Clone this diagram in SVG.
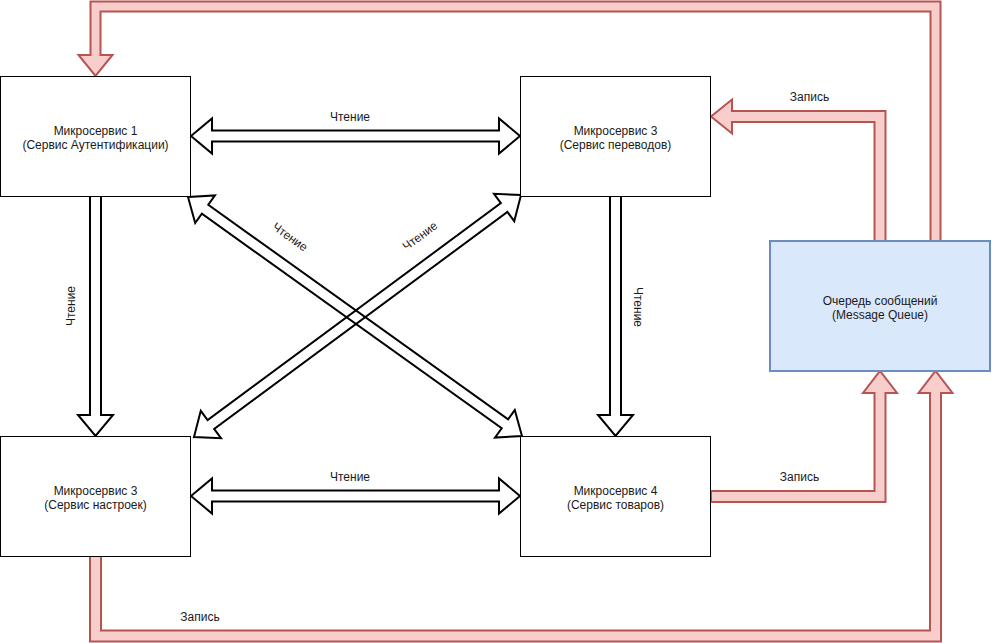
<svg xmlns="http://www.w3.org/2000/svg" width="992" height="643" viewBox="0 0 992 643">
  <style>
    .box{fill:#ffffff;stroke:#000000;stroke-width:1}
    .queue{fill:#dae8fc;stroke:#6c8ebf;stroke-width:2}
    .red{fill:#f8cecc;stroke:#b85450;stroke-width:2;stroke-linejoin:miter}
    .blk{fill:#ffffff;stroke:#000000;stroke-width:2;stroke-linejoin:miter}
    .diag{fill:none}
    text{font-family:"Liberation Sans",Arial,Helvetica,sans-serif;font-size:12px;fill:#1a1a1a;text-anchor:middle}
    .lbl{dominant-baseline:central}
  </style>
  <rect width="992" height="643" fill="#ffffff"/>
  <g id="connectors">
    <polygon class="red" points="930.5,241 930.5,11.5 100.5,11.5 100.5,55 112.5,55 95.5,76 78.5,55 90.5,55 90.5,1.5 940.5,1.5 940.5,241"/>
    <polygon class="red" points="874.5,241 874.5,122 732,122 732,133.5 711,116.5 732,99.5 732,111 885.5,111 885.5,241"/>
    <polygon class="red" points="711,491 874.5,491 874.5,393 863,393 880,371 897,393 885.5,393 885.5,502 711,502"/>
    <polygon class="red" points="90,556 90,641.5 941,641.5 941,393 952.5,393 935.5,371 918.5,393 930,393 930,630.5 101,630.5 101,556"/>
    <polygon class="blk" points="90,196 90,415 78,415 95.5,436 113,415 101,415 101,196"/>
    <polygon class="blk" points="610,196 610,415 598,415 615.5,436 633,415 621,415 621,196"/>
    <polygon class="blk" points="191,136 212,118.5 212,130.5 499,130.5 499,118.5 520,136 499,153.5 499,141.5 212,141.5 212,153.5"/>
    <polygon class="blk" points="191,496 212,478.5 212,490.5 499,490.5 499,478.5 520,496 499,513.5 499,501.5 212,501.5 212,513.5"/>
    <g transform="translate(188,197) rotate(35.59)">
      <polygon class="blk diag" points="0,0 21,-17 21,-5.5 389.7,-5.5 389.7,-17 410.7,0 389.7,17 389.7,5.5 21,5.5 21,17"/>
    </g>
    <g transform="translate(194,437) rotate(-36.5)">
      <polygon class="blk diag" points="0,0 21,-17 21,-5.5 385.8,-5.5 385.8,-17 406.8,0 385.8,17 385.8,5.5 21,5.5 21,17"/>
    </g>
    <text class="lbl" x="350" y="117">Чтение</text>
    <text class="lbl" x="350" y="477">Чтение</text>
    <text class="lbl" transform="translate(71,306) rotate(-90)">Чтение</text>
    <text class="lbl" transform="translate(638,307) rotate(90)">Чтение</text>
    <text class="lbl" transform="translate(290,237) rotate(35.6)">Чтение</text>
    <text class="lbl" transform="translate(420,236) rotate(-36.5)">Чтение</text>
    <text class="lbl" x="809.5" y="97">Запись</text>
    <text class="lbl" x="799.5" y="477">Запись</text>
    <text class="lbl" x="200" y="617">Запись</text>
  </g>
  <g id="ms1">
    <rect class="box" x="0.5" y="76.5" width="190" height="120"/>
    <text x="95.5" y="135">Микросервис 1</text>
    <text x="95.5" y="149">(Сервис Аутентификации)</text>
  </g>
  <g id="ms3-translations">
    <rect class="box" x="520.5" y="76.5" width="190" height="120"/>
    <text x="615.5" y="135">Микросервис 3</text>
    <text x="615.5" y="149">(Сервис переводов)</text>
  </g>
  <g id="ms3-settings">
    <rect class="box" x="0.5" y="436.5" width="190" height="120"/>
    <text x="95.5" y="495">Микросервис 3</text>
    <text x="95.5" y="509">(Сервис настроек)</text>
  </g>
  <g id="ms4">
    <rect class="box" x="520.5" y="436.5" width="190" height="120"/>
    <text x="615.5" y="495">Микросервис 4</text>
    <text x="615.5" y="509">(Сервис товаров)</text>
  </g>
  <g id="queue">
    <rect class="queue" x="770" y="241" width="220" height="130"/>
    <text x="880" y="305">Очередь сообщений</text>
    <text x="880" y="319">(Message Queue)</text>
  </g>
</svg>
